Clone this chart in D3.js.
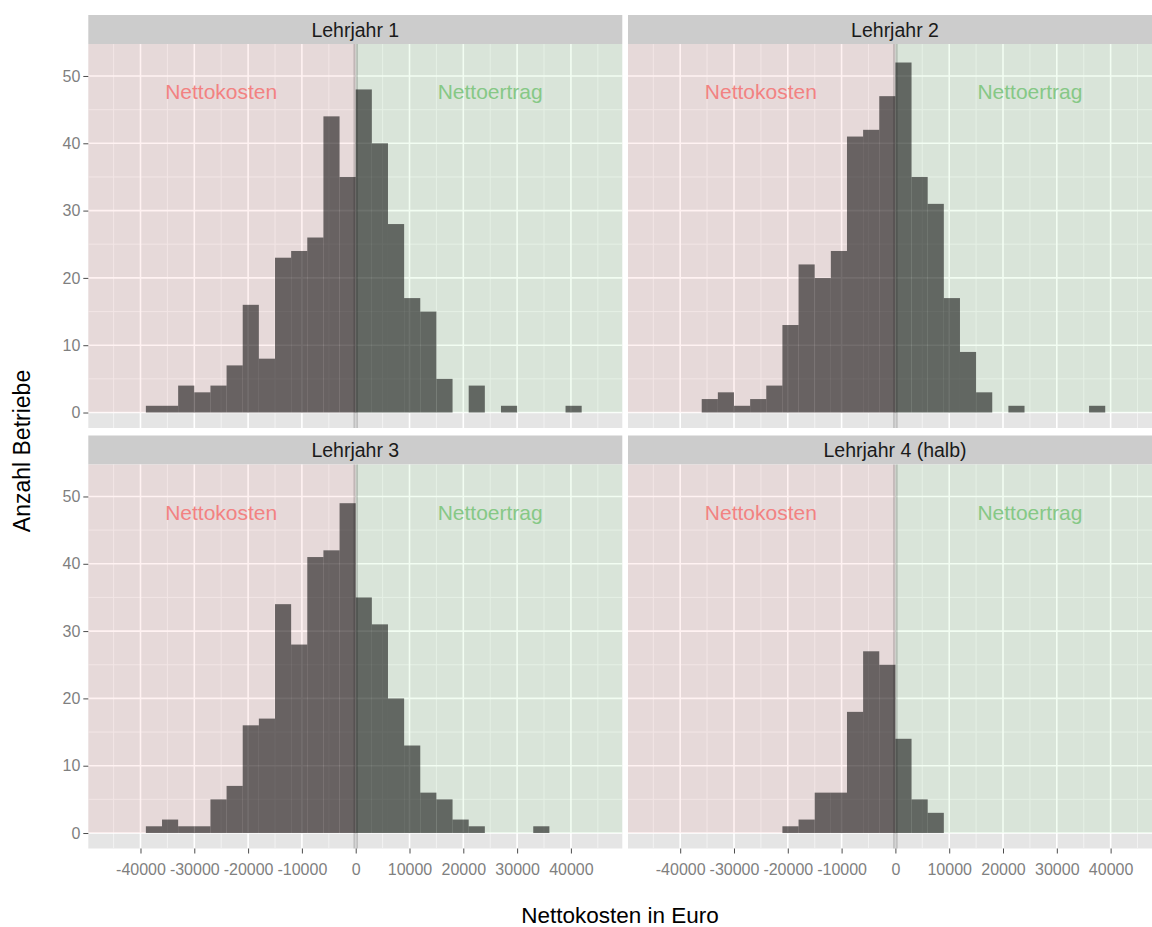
<!DOCTYPE html>
<html>
<head>
<meta charset="utf-8">
<script src="https://cdn.jsdelivr.net/npm/d3@7"></script>
<style>
  body { margin: 0; background: #fff; }
  svg { display: block; font-family: "Liberation Sans", Arial, sans-serif; }
</style>
</head>
<body>
<div id="vis"></div>
<script>
// Daten: Histogramm, Klassenbreite 3000 Euro
const facetTitles = ["Lehrjahr 1", "Lehrjahr 2", "Lehrjahr 3", "Lehrjahr 4 (halb)"];

const binLower = [-39000, -36000, -33000, -30000, -27000, -24000, -21000, -18000, -15000,
  -12000, -9000, -6000, -3000, 0, 3000, 6000, 9000, 12000, 15000,
  18000, 21000, 24000, 27000, 30000, 33000, 36000, 39000];
const BIN_WIDTH = 3000;

const countsLJ1 = [1, 1, 4, 3, 4, 7, 16, 8, 23, 24, 26, 44, 35, 48, 40, 28, 17, 15, 5, 0, 4, 0, 1, 0, 0, 0, 1];
const countsLJ2 = [0, 2, 3, 1, 2, 4, 13, 22, 20, 24, 41, 42, 47, 52, 35, 31, 17, 9, 3, 0, 1, 0, 0, 0, 0, 1, 0];
const countsLJ3 = [1, 2, 1, 1, 5, 7, 16, 17, 34, 28, 41, 42, 49, 35, 31, 20, 13, 6, 5, 2, 1, 0, 0, 0, 1, 0, 0];
const countsLJ4 = [0, 0, 0, 0, 0, 0, 1, 2, 6, 6, 18, 27, 25, 14, 5, 3, 0, 0, 0, 0, 0, 0, 0, 0, 0, 0, 0];

const xTicks = [-40000, -30000, -20000, -10000, 0, 10000, 20000, 30000, 40000];
const xMinor = [-45000, -35000, -25000, -15000, -5000, 5000, 15000, 25000, 35000, 45000];
const yTicks = [0, 10, 20, 30, 40, 50];
const yMinor = [5, 15, 25, 35, 45];

const labelKosten = { text: "Nettokosten", x: -25000, y: 47.7 };
const labelErtrag = { text: "Nettoertrag", x: 25000, y: 47.7 };

const allCounts = [countsLJ1, countsLJ2, countsLJ3, countsLJ4];

const WIDTH = 1152;
const HEIGHT = 927;
const PANEL_W = 534;
const PANEL_H = 384;
const STRIP_H = 29;
const PANEL_X = [88.3, 628];
const STRIP_Y = [15, 435.5];

const svg = d3.select("#vis").append("svg")
  .attr("width", WIDTH).attr("height", HEIGHT);

const escalaX = d3.scaleLinear().domain([-49700, 49550]).range([0, PANEL_W]);
const escalaY = d3.scaleLinear().domain([-2.3, 54.75]).range([PANEL_H, 0]);

facetTitles.forEach((titulo, i) => {
  const col = i % 2, row = Math.floor(i / 2);
  const px = PANEL_X[col];
  const sy = STRIP_Y[row];
  const py = sy + STRIP_H;

  // Streifen
  svg.append("rect")
    .attr("x", px).attr("y", sy).attr("width", PANEL_W).attr("height", STRIP_H)
    .attr("fill", "#cccccc");
  svg.append("text")
    .attr("x", px + PANEL_W / 2).attr("y", sy + STRIP_H / 2)
    .attr("dy", "0.36em")
    .attr("text-anchor", "middle")
    .attr("font-size", 19.5)
    .attr("fill", "#1a1a1a")
    .text(titulo);

  const g = svg.append("g").attr("transform", `translate(${px},${py})`);

  g.append("rect").attr("width", PANEL_W).attr("height", PANEL_H).attr("fill", "#e5e5e5");

  // Gitterlinien
  g.selectAll(".vminor").data(xMinor).join("line")
    .attr("x1", d => escalaX(d)).attr("x2", d => escalaX(d))
    .attr("y1", 0).attr("y2", PANEL_H)
    .attr("stroke", "#f2f2f2").attr("stroke-width", 1);
  g.selectAll(".hminor").data(yMinor).join("line")
    .attr("x1", 0).attr("x2", PANEL_W)
    .attr("y1", d => escalaY(d)).attr("y2", d => escalaY(d))
    .attr("stroke", "#f2f2f2").attr("stroke-width", 1);
  g.selectAll(".vmajor").data(xTicks).join("line")
    .attr("x1", d => escalaX(d)).attr("x2", d => escalaX(d))
    .attr("y1", 0).attr("y2", PANEL_H)
    .attr("stroke", "#ffffff").attr("stroke-width", 1.6);
  g.selectAll(".hmajor").data(yTicks).join("line")
    .attr("x1", 0).attr("x2", PANEL_W)
    .attr("y1", d => escalaY(d)).attr("y2", d => escalaY(d))
    .attr("stroke", "#ffffff").attr("stroke-width", 1.6);

  // Bereiche Nettokosten / Nettoertrag
  g.append("rect")
    .attr("x", 0).attr("y", 0)
    .attr("width", escalaX(0)).attr("height", escalaY(0))
    .attr("fill", "#ff0000").attr("fill-opacity", 0.05);
  g.append("rect")
    .attr("x", escalaX(0)).attr("y", 0)
    .attr("width", PANEL_W - escalaX(0)).attr("height", escalaY(0))
    .attr("fill", "#00e000").attr("fill-opacity", 0.05);

  // Balken
  const bins = binLower.map((b, k) => ({ x0: b, x1: b + BIN_WIDTH, n: allCounts[i][k] }))
    .filter(d => d.n > 0);
  g.selectAll(".bar").data(bins).join("rect")
    .attr("class", "bar")
    .attr("x", d => escalaX(d.x0))
    .attr("width", d => escalaX(d.x1) - escalaX(d.x0))
    .attr("y", d => escalaY(d.n))
    .attr("height", d => escalaY(0) - escalaY(d.n))
    .attr("fill", "#000000").attr("fill-opacity", 0.55);

  // Nulllinie
  g.append("line")
    .attr("x1", escalaX(0)).attr("x2", escalaX(0))
    .attr("y1", 0).attr("y2", PANEL_H)
    .attr("stroke", "#000000").attr("stroke-opacity", 0.17).attr("stroke-width", 4.5);

  g.append("text")
    .attr("x", escalaX(labelKosten.x)).attr("y", escalaY(labelKosten.y))
    .attr("dy", "0.36em").attr("text-anchor", "middle")
    .attr("font-size", 21).attr("fill", "#f28282")
    .text(labelKosten.text);
  g.append("text")
    .attr("x", escalaX(labelErtrag.x)).attr("y", escalaY(labelErtrag.y))
    .attr("dy", "0.36em").attr("text-anchor", "middle")
    .attr("font-size", 21).attr("fill", "#86c886")
    .text(labelErtrag.text);

  // Achsen
  if (col === 0) {
    const ejeY = d3.axisLeft(escalaY).tickValues(yTicks).tickSize(5).tickPadding(3)
      .tickFormat(d => String(d));
    const ay = g.append("g").call(ejeY);
    ay.select(".domain").remove();
    ay.selectAll(".tick line").attr("stroke", "#4d4d4d");
    ay.selectAll(".tick text").attr("fill", "#7f7f7f").attr("font-size", 16)
      .attr("font-family", "Liberation Sans, Arial, sans-serif");
  }
  if (row === 1) {
    const ejeX = d3.axisBottom(escalaX).tickValues(xTicks).tickSize(5).tickPadding(10)
      .tickFormat(d => String(d));
    const ax = g.append("g").attr("transform", `translate(0,${PANEL_H})`).call(ejeX);
    ax.select(".domain").remove();
    ax.selectAll(".tick line").attr("stroke", "#4d4d4d");
    ax.selectAll(".tick text").attr("fill", "#7f7f7f").attr("font-size", 16)
      .attr("font-family", "Liberation Sans, Arial, sans-serif");
  }
});

// Achsentitel
svg.append("text")
  .attr("x", 620).attr("y", 915)
  .attr("dy", "0.36em").attr("text-anchor", "middle")
  .attr("font-size", 22.5).attr("fill", "#000")
  .text("Nettokosten in Euro");
svg.append("text")
  .attr("transform", "translate(22,451) rotate(-90)")
  .attr("dy", "0.36em").attr("text-anchor", "middle")
  .attr("font-size", 23).attr("fill", "#000")
  .text("Anzahl Betriebe");
</script>
</body>
</html>
